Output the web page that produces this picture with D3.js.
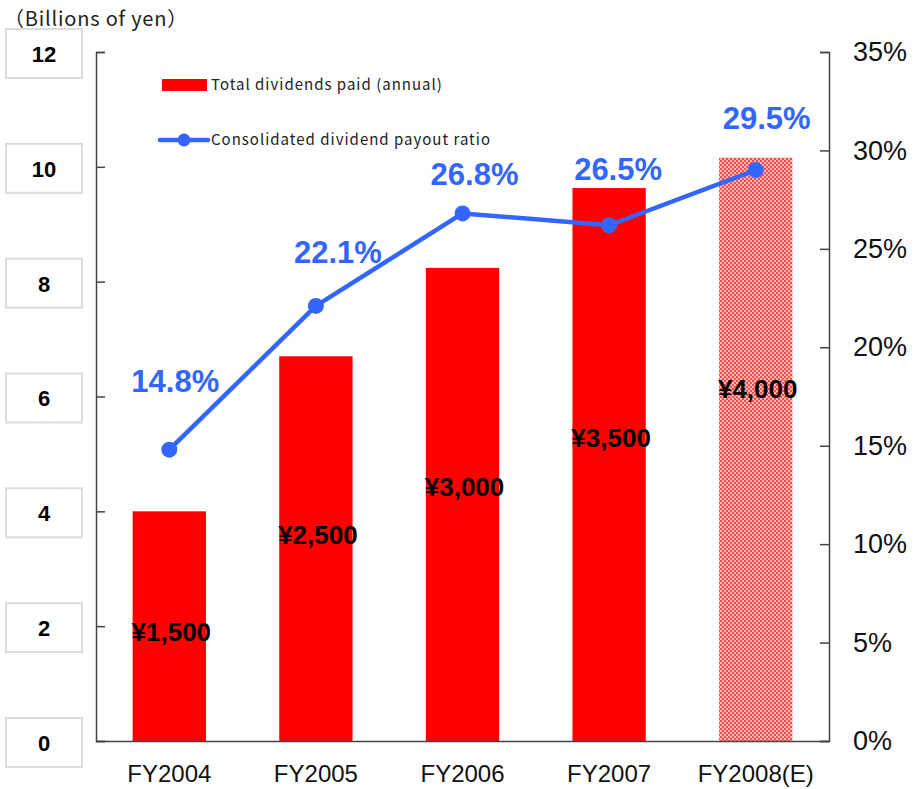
<!DOCTYPE html>
<html>
<head>
<meta charset="utf-8">
<script src="https://cdn.jsdelivr.net/npm/d3@7"></script>
<style>
  body { margin: 0; background: #fff; }
  svg { display: block; font-family: "Liberation Sans", Arial, sans-serif; }
</style>
</head>
<body>
<svg class="chart"></svg>
<script>
var width = 916,
    height = 789;

// data
var years = ["FY2004", "FY2005", "FY2006", "FY2007", "FY2008(E)"];
var dividends = [4.0, 6.7, 8.24, 9.63, 10.16];        // billions of yen
var perShare = [1500, 2500, 3000, 3500, 4000];        // yen per share
var payout = [14.8, 22.1, 26.8, 26.2, 29.0];          // % as plotted
var payoutLabels = ["14.8%", "22.1%", "26.8%", "26.5%", "29.5%"];
var leftTicks = [0, 2, 4, 6, 8, 10, 12];
var rightTicks = [0, 5, 10, 15, 20, 25, 30, 35];

// label nudges (layout only)
var pctLift = [58, 43, 28, 45, 41];
var pctShift = [6, 22, 12, 9, 11];

var plotL = 96, plotR = 829, plotT = 52, plotB = 741;
var blue = "#3366ff";

var x = d3.scaleBand()
    .domain(years)
    .range([plotL, plotR])
    .paddingInner(0.5)
    .paddingOuter(0.25);
var y = d3.scaleLinear().domain([0, 12]).range([plotB, plotT]);
var y2 = d3.scaleLinear().domain([0, 35]).range([plotB, plotT]);
// where the per-share labels sit inside the bars
var yShare = d3.scaleLinear().domain([0, 8000]).range([778, 0]);

var chart = d3.select(".chart")
    .attr("width", width)
    .attr("height", height);

var defs = chart.append("defs");
var pat = defs.append("pattern")
    .attr("id", "checker")
    .attr("width", 4).attr("height", 4)
    .attr("patternUnits", "userSpaceOnUse");
pat.append("rect").attr("width", 4).attr("height", 4).attr("fill", "#ffb8b8");
pat.append("rect").attr("width", 2).attr("height", 2).attr("fill", "#ff4a4a");
pat.append("rect").attr("x", 2).attr("y", 2).attr("width", 2).attr("height", 2).attr("fill", "#ff4a4a");

// title
chart.append("text")
    .attr("x", 4).attr("y", 26)
    .style("font-family", "'Noto Sans CJK JP', sans-serif")
    .style("font-size", "20px")
    .style("letter-spacing", "0.8px")
    .attr("fill", "#222")
    .text("（Billions of yen）");

// left axis boxes
var lbox = chart.selectAll(".lbox")
    .data(leftTicks)
  .enter().append("g")
    .attr("class", "lbox")
    .attr("transform", function(d) { return "translate(0," + y(d) + ")"; });
lbox.append("rect")
    .attr("x", 6).attr("y", -23)
    .attr("width", 76).attr("height", 49)
    .attr("fill", "#fff")
    .attr("stroke", "#dcdcdc")
    .attr("stroke-width", 2);
lbox.append("text")
    .attr("x", 44).attr("y", 2).attr("dy", "0.36em")
    .attr("text-anchor", "middle")
    .style("font-size", "22px")
    .style("font-weight", "bold")
    .text(function(d) { return d; });

// bars
chart.selectAll(".bar")
    .data(dividends)
  .enter().append("rect")
    .attr("class", "bar")
    .attr("x", function(d, i) { return x(years[i]); })
    .attr("y", function(d) { return y(d); })
    .attr("width", x.bandwidth())
    .attr("height", function(d) { return plotB - y(d); })
    .attr("fill", function(d, i) { return i == years.length - 1 ? "url(#checker)" : "#ff0000"; });

chart.selectAll(".yen")
    .data(perShare)
  .enter().append("text")
    .attr("class", "yen")
    .attr("x", function(d, i) { return x(years[i]) + x.bandwidth() / 2 + 2; })
    .attr("y", function(d) { return yShare(d); })
    .attr("dy", "0.36em")
    .attr("text-anchor", "middle")
    .style("font-size", "26px")
    .style("font-weight", "bold")
    .text(function(d) { return "¥" + d3.format(",")(d); });

// axes
var axisL = chart.append("g")
    .attr("transform", "translate(" + plotL + ",0)")
    .call(d3.axisLeft(y).tickValues(leftTicks).tickSize(-9).tickFormat(""));
var axisR = chart.append("g")
    .attr("transform", "translate(" + plotR + ",0)")
    .call(d3.axisRight(y2).tickValues(rightTicks).tickSize(-9).tickPadding(24)
      .tickFormat(function(d) { return d + "%"; }));
axisR.selectAll("text")
    .style("font-size", "27px")
    .style("font-family", "'Liberation Sans', Arial, sans-serif")
    .attr("fill", "#111");
[axisL, axisR].forEach(function(a) {
  a.select(".domain").attr("stroke", "#444").attr("stroke-width", 1.5);
  a.selectAll(".tick line").attr("stroke", "#444").attr("stroke-width", 1.5);
});

var axisB = chart.append("g")
    .attr("transform", "translate(0," + plotB + ")")
    .call(d3.axisBottom(x).tickSize(0).tickPadding(24).tickSizeOuter(0));
axisB.select(".domain").attr("stroke", "#444").attr("stroke-width", 1.5);
axisB.selectAll("text")
    .style("font-size", "24px")
    .style("font-family", "'Liberation Sans', Arial, sans-serif")
    .attr("fill", "#111");

// payout line
var cx = function(d, i) { return x(years[i]) + x.bandwidth() / 2; };
var line = d3.line()
    .x(cx)
    .y(function(d) { return y2(d); });

chart.append("path")
    .datum(payout)
    .attr("fill", "none")
    .attr("stroke", blue)
    .attr("stroke-width", 4.5)
    .attr("stroke-linejoin", "round")
    .attr("d", line);

chart.selectAll(".dot")
    .data(payout)
  .enter().append("circle")
    .attr("cx", cx)
    .attr("cy", function(d) { return y2(d); })
    .attr("r", 8)
    .attr("fill", blue);

chart.selectAll(".pct")
    .data(payout)
  .enter().append("text")
    .attr("x", function(d, i) { return cx(d, i) + pctShift[i]; })
    .attr("y", function(d, i) { return y2(d) - pctLift[i]; })
    .attr("text-anchor", "middle")
    .style("font-size", "31px")
    .style("font-weight", "bold")
    .attr("fill", blue)
    .text(function(d, i) { return payoutLabels[i]; });

// legend
var legend = chart.append("g")
    .style("font-family", "'Noto Sans CJK JP', sans-serif")
    .style("font-size", "15px")
    .style("letter-spacing", "1px")
    .attr("fill", "#222");
legend.append("rect")
    .attr("x", 162).attr("y", 79)
    .attr("width", 45).attr("height", 12)
    .attr("fill", "#ff0000");
legend.append("text")
    .attr("x", 211).attr("y", 85).attr("dy", "0.36em")
    .text("Total dividends paid (annual)");
legend.append("line")
    .attr("x1", 160).attr("x2", 208)
    .attr("y1", 140).attr("y2", 140)
    .attr("stroke", blue).attr("stroke-width", 4.5)
    .attr("stroke-linecap", "round");
legend.append("circle")
    .attr("cx", 184).attr("cy", 140).attr("r", 6.5)
    .attr("fill", blue);
legend.append("text")
    .attr("x", 211).attr("y", 140).attr("dy", "0.36em")
    .text("Consolidated dividend payout ratio");
</script>
</body>
</html>
